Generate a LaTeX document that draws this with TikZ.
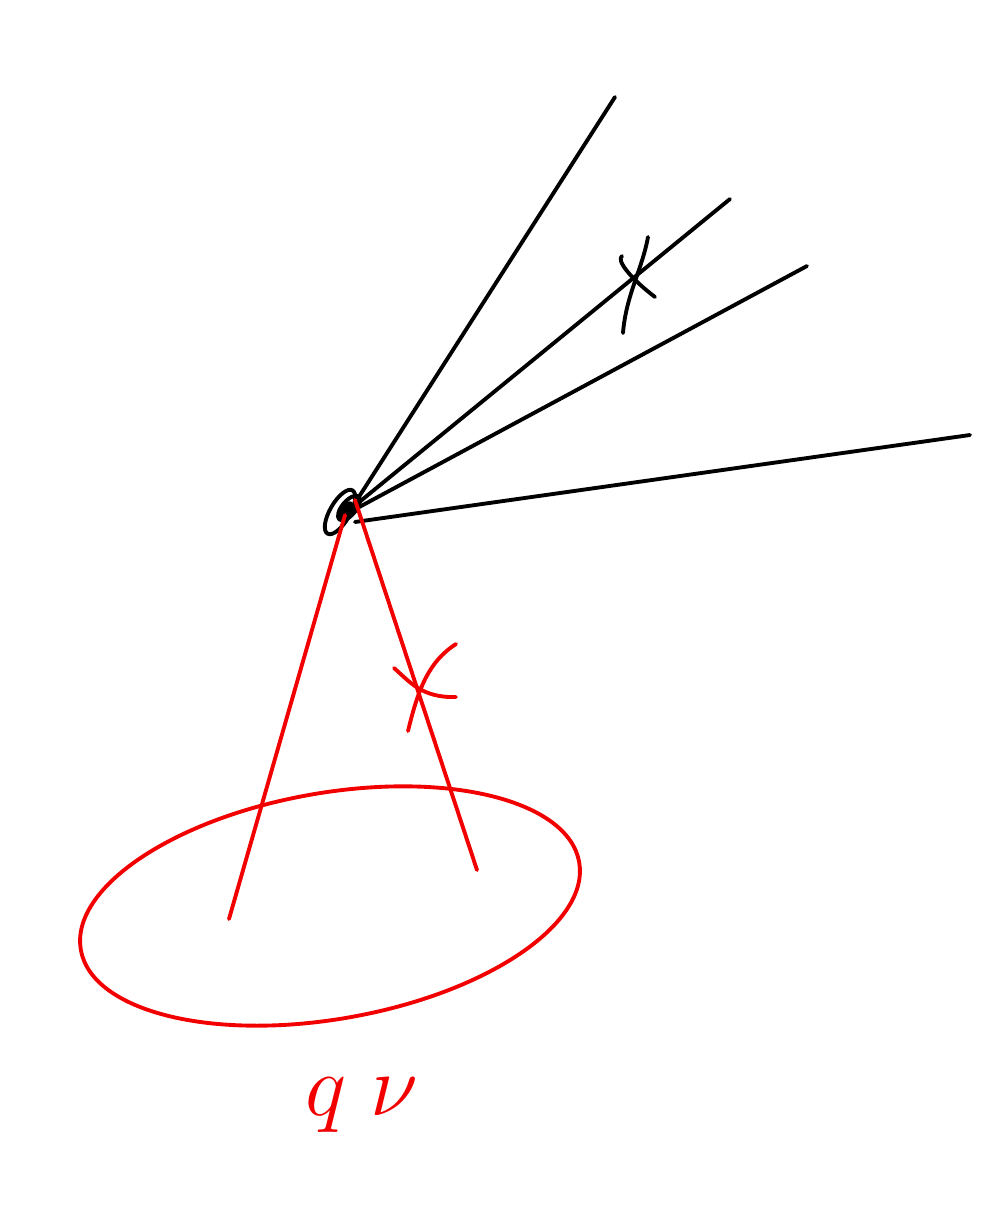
\documentclass[tikz,border=0pt]{standalone}
\usetikzlibrary{calc}
\tikzset{
  pen/.style={line width=1.1pt,line cap=round,line join=round},
  redpen/.style={pen,draw=red!95!black},
}
\begin{document}
\begin{tikzpicture}
\useasboundingbox (0,0) rectangle (10,-12.21);
% vertex and outgoing lines
\coordinate (v) at (3.50,-5.10);
\coordinate (o1) at (6.15,-0.97);
\coordinate (o2) at (7.30,-1.99);
\coordinate (o3) at (8.07,-2.66);
\coordinate (o4) at (9.70,-4.35);
\draw[pen] (3.55,-5.03) -- (o1);
\draw[pen] (3.52,-5.08) -- (o2);
\draw[pen] (3.50,-5.12) -- (o3);
\draw[pen] (3.55,-5.22) -- (o4);
% blob at the vertex
\draw[pen,rotate around={60:(3.40,-5.12)}] (3.40,-5.12) ellipse (0.25 and 0.10);
\draw[pen,rotate around={50:(3.49,-5.08)}] (3.49,-5.08) ellipse (0.15 and 0.07);
\fill[rotate around={55:(3.46,-5.10)}] (3.46,-5.10) ellipse (0.10 and 0.05);
% cut mark on black line
\draw[pen] (6.23,-3.33) .. controls (6.26,-2.95) and (6.42,-2.70) .. (6.48,-2.37);
\draw[pen] (6.22,-2.56) .. controls (6.16,-2.60) and (6.30,-2.78) .. (6.55,-2.97);
% red lines down to the blob
\coordinate (r1) at (2.29,-9.19);
\coordinate (r2) at (4.77,-8.70);
\draw[redpen] (3.45,-5.15) -- (r1);
\draw[redpen] (3.55,-5.00) -- (r2);
% cut mark on red line
\draw[redpen] (3.94,-6.68) .. controls (4.10,-6.82) and (4.22,-6.98) .. (4.56,-6.97);
\draw[redpen] (4.08,-7.31) .. controls (4.18,-6.90) and (4.28,-6.62) .. (4.56,-6.44);
% blob
\draw[redpen,rotate around={10:(3.30,-9.06)}] (3.30,-9.06) ellipse (2.53 and 1.13);
\node[text=red!95!black,font=\fontsize{40}{44}\selectfont] (lbl) at (3.62,-11.05) {$q\;\nu$};
\end{tikzpicture}
\end{document}
